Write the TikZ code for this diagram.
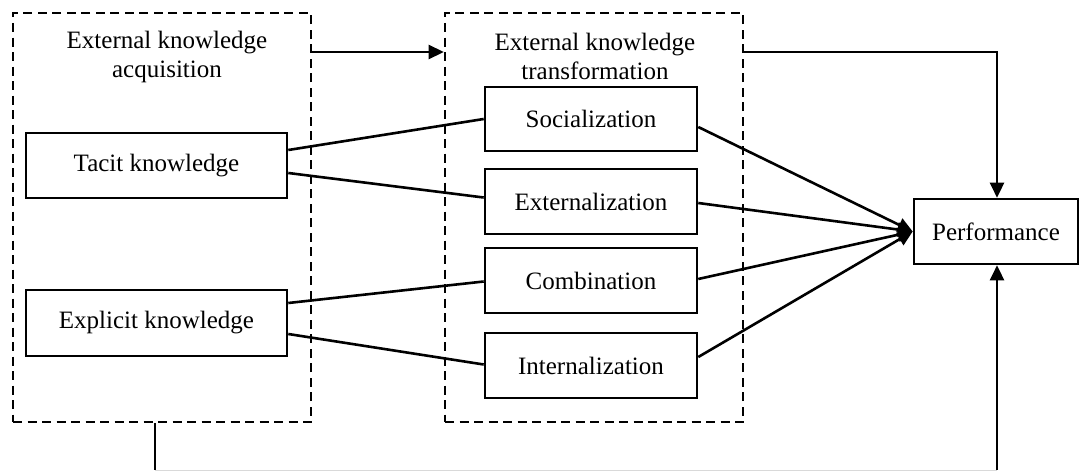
\documentclass[tikz,border=0pt]{standalone}
\usepackage{fontspec}
\setmainfont{Liberation Serif}
\usetikzlibrary{arrows.meta}
\begin{document}
\begin{tikzpicture}[x=1pt,y=-1pt,
  txt/.style={font=\fontsize{25}{29}\selectfont, inner sep=0pt},
  box/.style={txt, draw, line width=2.6pt, rectangle},
  dashbox/.style={draw, line width=2.6pt, dash pattern=on 9pt off 5.5pt, inner sep=0pt},
  ln/.style={line width=2.6pt},
  arr/.style={line width=2.6pt, -{Triangle[length=15pt,width=14pt]}}]
\useasboundingbox (0,0) rectangle (1080,471);
\fill[white] (0,0) rectangle (1080,471);
% dashed groups
\node[dashbox, minimum width=298pt, minimum height=409pt] (acq) at (162,217.5) {};
\node[dashbox, minimum width=298pt, minimum height=409pt] (trans) at (594,217.5) {};
\node[txt, align=center] (acqt) at (167,57) {External knowledge\\acquisition};
\node[txt, align=center] (transt) at (595,56) {External knowledge\\transformation};
% boxes
\node[box, minimum width=261pt, minimum height=65pt] (tacit) at (156.5,165.5) {Tacit knowledge};
\node[box, minimum width=261pt, minimum height=66pt] (expl) at (156.5,323) {Explicit knowledge};
\node[box, minimum width=212pt, minimum height=64pt] (soc) at (591,119) {Socialization};
\node[box, minimum width=212pt, minimum height=65pt] (ext) at (591,201.5) {Externalization};
\node[box, minimum width=212pt, minimum height=65pt] (comb) at (591,280.5) {Combination};
\node[box, minimum width=212pt, minimum height=65pt] (int) at (591,365.5) {Internalization};
\node[box, minimum width=164pt, minimum height=65pt] (perf) at (996,231.5) {Performance};
% helper coordinates
\coordinate (ya) at (0,52);
\coordinate (fbl) at (155,470);
\coordinate (fbr) at (997,470);
% acquisition -> transformation
\draw[arr] (acq.east |- ya) -- (trans.west |- ya);
% transformation -> performance (top)
\draw[arr] (trans.east |- ya) -- (fbr |- ya) -- (fbr |- perf.north);
% feedback from acquisition (bottom)
\draw[ln] (fbl |- acq.south) -- (fbl);
\draw[gray!30, line width=1pt] (fbl) -- (fbr);
\draw[arr] (fbr) -- (fbr |- perf.south);
% knowledge -> modes
\draw[ln] ([yshift=15.5pt]tacit.east) -- ([yshift=0pt]soc.west);
\draw[ln] ([yshift=-7.5pt]tacit.east) -- ([yshift=4pt]ext.west);
\draw[ln] ([yshift=20pt]expl.east) -- ([yshift=-1pt]comb.west);
\draw[ln] ([yshift=-11pt]expl.east) -- ([yshift=1pt]int.west);
% modes -> performance
\draw[arr] ([yshift=-8pt]soc.east) -- (perf.west);
\draw[arr] ([yshift=-1.5pt]ext.east) -- (perf.west);
\draw[arr] ([yshift=1.5pt]comb.east) -- (perf.west);
\draw[arr] ([yshift=8.5pt]int.east) -- (perf.west);
\end{tikzpicture}
\end{document}
